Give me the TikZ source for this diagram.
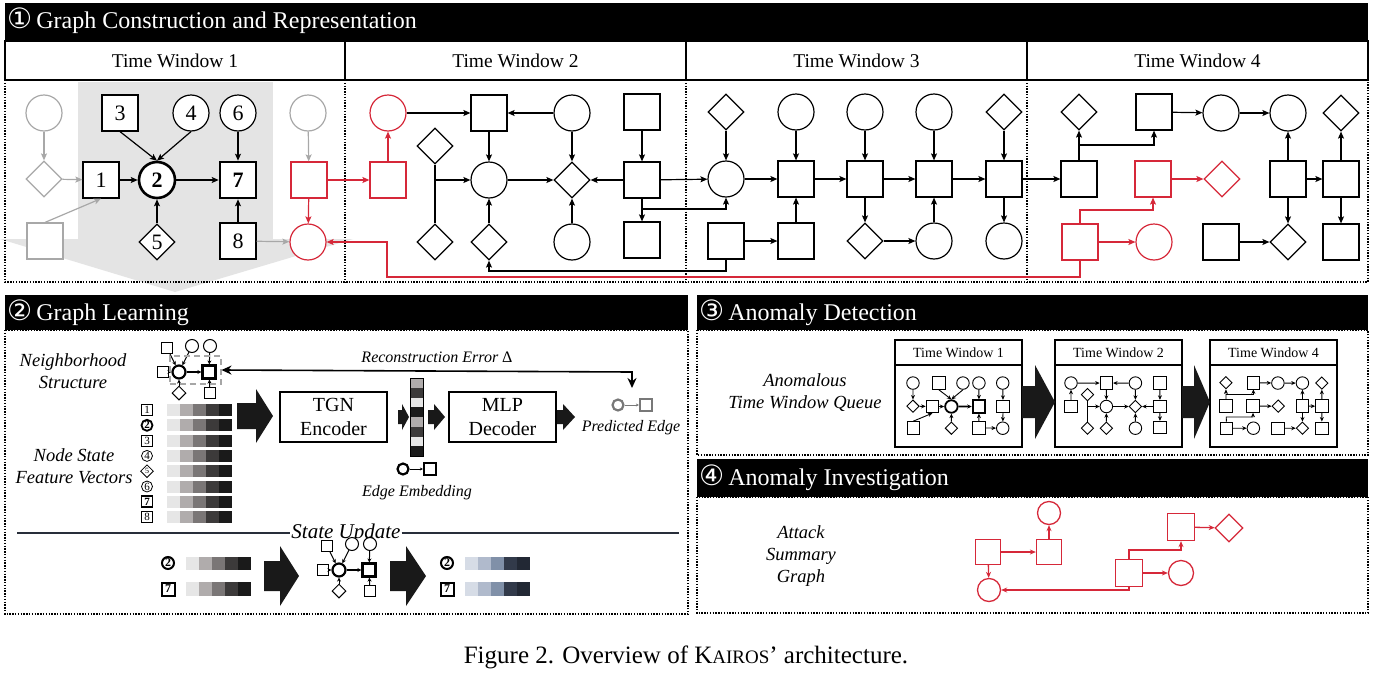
\documentclass[tikz,border=0pt]{standalone}
\usepackage{fontspec}
\setmainfont{Liberation Serif}
\newfontfamily\symf{DejaVu Sans}
\usetikzlibrary{shapes.geometric,arrows.meta}
\definecolor{gcol}{RGB}{168,168,168}
\definecolor{rcol}{RGB}{214,40,57}
\definecolor{lgray}{RGB}{228,228,228}
\definecolor{pgray}{RGB}{120,120,120}
\definecolor{c1}{RGB}{230,230,230}
\definecolor{c2}{RGB}{176,172,172}
\definecolor{c3}{RGB}{122,118,118}
\definecolor{c4}{RGB}{60,58,58}
\definecolor{c5}{RGB}{26,26,26}
\definecolor{b1}{RGB}{214,220,230}
\definecolor{b2}{RGB}{176,186,204}
\definecolor{b3}{RGB}{128,144,168}
\definecolor{b4}{RGB}{50,58,74}
\definecolor{b5}{RGB}{34,40,52}
\definecolor{navy}{RGB}{40,46,58}

\newcommand\nsz{36pt}
\newcommand\lw{1.2pt}
\newcommand\tlw{2.6pt}
\newcommand\alen{7pt}
\newcommand\awid{6pt}
\newcommand\LB[1]{#1}
\newcommand\cnum[1]{{\symf\fontsize{28}{24}\selectfont #1}}

\tikzset{
  nd/.style={draw, line width=\lw, fill=white, inner sep=0pt, font=\fontsize{22}{22}\selectfont},
  sq/.style={nd, rectangle, minimum size=\nsz},
  ci/.style={nd, circle, minimum size=\nsz},
  di/.style={nd, diamond, minimum size=\nsz},
  tk/.style={line width=\tlw},
  ed/.style={line width=\lw, -{Stealth[length=\alen,width=\awid,inset=1.5pt]}},
  gn/.style={draw=gcol},
  rn/.style={draw=rcol},
  ge/.style={draw=gcol},
  re/.style={draw=rcol},
  dotbox/.style={line width=2pt, dash pattern=on 1.4pt off 1.4pt},
  sn/.style={draw, fill=white, inner sep=0pt, line width=1pt, rectangle},
  se/.style={line width=1pt, -{Stealth[length=4pt,width=4pt]}},
  ico/.style={draw, fill=white, inner sep=0pt, line width=0.8pt, minimum size=11pt, font=\fontsize{11}{11}\selectfont},
  blk/.style={fill=black!90},
  itx/.style={font=\fontsize{18.5}{22}\selectfont\itshape, align=center},
  ttl/.style={font=\fontsize{24}{24}\selectfont, text=white, anchor=west, inner sep=0pt},
  hdr/.style={font=\fontsize{19.5}{19.5}\selectfont},
  phdr/.style={font=\fontsize{14}{14}\selectfont},
  rsq/.style={draw=rcol, fill=white, line width=1.3pt, rectangle, inner sep=0pt, minimum size=25pt},
  rci/.style={draw=rcol, fill=white, line width=1.3pt, circle, inner sep=0pt, minimum size=23pt},
  rdi/.style={draw=rcol, fill=white, line width=1.3pt, diamond, inner sep=0pt, minimum size=28pt},
  rar/.style={draw=rcol, line width=1.3pt, -{Stealth[length=6pt,width=5pt]}},
  boxn/.style={draw, line width=2pt, minimum width=107pt, minimum height=50pt, align=center, font=\fontsize{20}{24}\selectfont},
}

\newcommand\barrow[6]{\fill[blk] (#1,#4-#5) -- (#2,#4-#5) -- (#2,#4-#6) -- (#3,#4) -- (#2,#4+#6) -- (#2,#4+#5) -- (#1,#4+#5) -- cycle;}

\newcommand\GOne{%
 \node[ci,gn] (g1) at (44,113) {};
 \node[di,gn] (g2) at (44,179) {};
 \node[sq,gn] (g3) at (45,241) {};
 \node[sq] (n1) at (101,180) {\LB{1}};
 \node[ci,tk] (n2) at (157,180) {\LB{\textbf{2}}};
 \node[sq] (n3) at (120,113) {\LB{3}};
 \node[ci] (n4) at (191,113) {\LB{4}};
 \node[di] (n5) at (157,242) {\LB{5}};
 \node[ci] (n6) at (238,113) {\LB{6}};
 \node[sq,tk] (n7) at (238,180) {\LB{\textbf{7}}};
 \node[sq] (n8) at (238,241) {\LB{8}};
 \node[ci,gn] (g4) at (308,113) {};
 \node[sq,rn] (r1) at (309,180) {};
 \node[ci,rn] (r2) at (308,242) {};
 \draw[ed,ge] (g1) -- (g2);
 \draw[ed,ge] (g2) -- (n1);
 \draw[ed,ge] (g3.north) -- (n1.south);
 \draw[ed] (n3.south) -- (n2.north);
 \draw[ed] (n4.south) -- (n2.north);
 \draw[ed] (n1) -- (n2);
 \draw[ed] (n5) -- (n2);
 \draw[ed,tk] (n2) -- (n7);
 \draw[ed] (n6) -- (n7);
 \draw[ed] (n8) -- (n7);
 \draw[ed,ge] (n8) -- (r2);
 \draw[ed,ge] (g4) -- (r1);
 \draw[ed,re] (r1) -- (r2);
}

\newcommand\GTwo{%
 \node[ci,rn] (r3) at (388,113) {};
 \node[sq,rn] (r4) at (388,180) {};
 \node[sq] (A) at (489,113) {};
 \node[ci] (B) at (572,113) {};
 \node[sq] (C) at (642,112) {};
 \node[di] (D1) at (435,146) {};
 \node[ci] (E) at (489,180) {};
 \node[di] (F) at (572,180) {};
 \node[sq] (G) at (642,180) {};
 \node[di] (D2) at (435,242) {};
 \node[di] (D3) at (489,242) {};
 \node[ci] (H) at (572,242) {};
 \node[sq] (I) at (642,240) {};
 \draw[ed,re] (r4) -- (r3);
 \draw[ed] (r3) -- (A);
 \draw[ed] (B) -- (A);
 \draw[ed] (A) -- (E);
 \draw[ed] (B) -- (F);
 \draw[ed] (C) -- (G);
 \draw[line width=\lw] (D1.south) -- (D2.north);
 \draw[ed] (435,180) -- (E);
 \draw[ed] (D3) -- (E);
 \draw[ed] (E) -- (F);
 \draw[ed] (G) -- (F);
 \draw[ed] (H) -- (F);
 \draw[ed] (G) -- (I);
}

\newcommand\GThree{%
 \node[di] (x1) at (726,112) {};
 \node[ci] (x2) at (796,112) {};
 \node[ci] (x3) at (865,112) {};
 \node[ci] (x4) at (934,112) {};
 \node[di] (x5) at (1004,112) {};
 \node[ci] (y1) at (726,179) {};
 \node[sq] (y2) at (796,179) {};
 \node[sq] (y3) at (865,179) {};
 \node[sq] (y4) at (934,179) {};
 \node[sq] (y5) at (1004,179) {};
 \node[sq] (z1) at (726,241) {};
 \node[sq] (z2) at (796,241) {};
 \node[di] (z3) at (865,241) {};
 \node[ci] (z4) at (934,241) {};
 \node[ci] (z5) at (1004,241) {};
 \foreach \i in {1,...,5} {\draw[ed] (x\i) -- (y\i);}
 \draw[ed] (y1) -- (y2);
 \draw[ed] (y2) -- (y3);
 \draw[ed] (y3) -- (y4);
 \draw[ed] (y4) -- (y5);
 \draw[ed] (z1) -- (z2);
 \draw[ed] (z2) -- (y2);
 \draw[ed] (y3) -- (z3);
 \draw[ed] (z3) -- (z4);
 \draw[ed] (z4) -- (y4);
 \draw[ed] (y5) -- (z5);
}

\newcommand\GFour{%
 \node[di] (X1) at (1079,112) {};
 \node[sq] (X2) at (1154,112) {};
 \node[ci] (X3) at (1221,113) {};
 \node[ci] (X4) at (1288,113) {};
 \node[di] (X5) at (1341,113) {};
 \node[sq] (Y1) at (1079,179) {};
 \node[sq,rn] (Y2) at (1153,179) {};
 \node[di,rn] (Y3) at (1222,179) {};
 \node[sq] (Y4) at (1288,179) {};
 \node[sq] (Y5) at (1341,179) {};
 \node[sq,rn] (Z1) at (1080,242) {};
 \node[ci,rn] (Z2) at (1154,242) {};
 \node[sq] (Z3) at (1221,242) {};
 \node[di] (Z4) at (1288,242) {};
 \node[sq] (Z5) at (1341,242) {};
 \draw[ed] (Y1) -- (X1);
 \draw[ed] (1079,145) -| (X2.south);
 \draw[ed] (X2) -- (X3);
 \draw[ed] (X3) -- (X4);
 \draw[ed] (Y4) -- (X4);
 \draw[ed] (Y5) -- (X5);
 \draw[ed] (Y4) -- (Y5);
 \draw[ed] (Y4) -- (Z4);
 \draw[ed] (Y5) -- (Z5);
 \draw[ed] (Z3) -- (Z4);
 \draw[ed,re] (Y2) -- (Y3);
 \draw[ed,re] (Z1) -- (Z2);
 \draw[ed,re] (Z1.north) -- (1080,210) -| (Y2.south);
}

\newcommand\NB{%
 \node[sn,circle,minimum size=13pt,line width=2.2pt] (nC) at (179,372) {};
 \node[sn,minimum size=13pt,line width=2.2pt] (nS) at (209,372) {};
 \node[sn,minimum size=11pt] (nL) at (163,372) {};
 \node[sn,minimum size=11pt] (nTL) at (167,348) {};
 \node[sn,circle,minimum size=13pt] (nTC) at (192,346) {};
 \node[sn,circle,minimum size=13pt] (nTS) at (210,346) {};
 \node[sn,diamond,minimum size=14pt] (nD) at (179,393) {};
 \node[sn,minimum size=11pt] (nB) at (210,393) {};
 \draw[se] (nL) -- (nC);
 \draw[se] (nTL) -- (nC);
 \draw[se] (nTC) -- (nC);
 \draw[se] (nTS) -- (nS);
 \draw[se] (nD) -- (nC);
 \draw[se] (nB) -- (nS);
 \draw[se,line width=2pt] (nC) -- (nS);
}

\newcommand\MiniSet{\renewcommand\nsz{12.5pt}\renewcommand\lw{0.9pt}\renewcommand\tlw{1.8pt}\renewcommand\alen{4.5pt}\renewcommand\awid{4pt}\renewcommand\LB[1]{}}

\begin{document}
\begin{tikzpicture}[x=1pt,y=-1pt]
\useasboundingbox (0,0) rectangle (1373,672);
\fill[white] (0,0) rectangle (1373,672);

% ---------- Section 1 ----------
\fill[lgray] (78,82) rectangle (273,239);
\fill[lgray] (0,239) -- (353,239) -- (175,292) -- cycle;
\fill[black] (5,3) rectangle (1368,41);
\node[ttl] (s1t) at (7,21) {\cnum{①}\,Graph Construction and Representation};
\foreach \i/\xa/\xb in {1/5/345,2/345/686,3/686/1027,4/1027/1368} {
  \draw[line width=2pt] (\xa,41) rectangle (\xb,80);
  \node[hdr] (hw\i) at ({(\xa+\xb)/2},61) {Time Window \i};
}
\draw[dotbox] (5,80) rectangle (1368,282);
\foreach \xx in {345,686,1027} {\draw[dotbox] (\xx,80) -- (\xx,282);}

\GOne
\GTwo
\GThree
\GFour
\draw[ed,re] (r1) -- (r4);
\draw[ed] (G) -- (y1);
\draw[ed] (642,209) -| (y1.south);
\draw[ed] (z1.south) -- (726,271) -| (D3.south);
\draw[ed] (y5) -- (Y1);
\draw[ed,re] (Z1.south) |- (387,277) -- (387,242) -- (r2.east);

% ---------- Section 2 ----------
\fill[black] (5,295) rectangle (688,330);
\node[ttl] (s2t) at (7,313) {\cnum{②}\,Graph Learning};
\draw[dotbox] (5,330) rectangle (688,614);

\node[itx] (nbt) at (73,371) {Neighborhood\\Structure};
\NB
\node[draw=gray!70, dashed, line width=2pt, dash pattern=on 6pt off 4pt, minimum width=51pt, minimum height=28pt, inner sep=0pt] (dbox) at (195,370) {};
\coordinate (rcA) at (632,372);
\coordinate (rcB) at (632,388);
\draw[line width=1.6pt, {Stealth[length=10pt,width=9pt]}-{Stealth[length=10pt,width=9pt]}] (dbox.east) -- (rcA) -- (rcB);
\node[font=\fontsize{16}{16}\selectfont\itshape] (rct) at (437,357) {Reconstruction Error {\upshape Δ}};

\node[itx] (nst) at (74,466) {Node State\\Feature Vectors};
\foreach \i/\yy in {1/410,2/425.3,3/440.6,4/455.9,5/471.2,6/486.5,7/501.8,8/517.1} {
  \foreach \c [count=\k from 0] in {c1,c2,c3,c4,c5} {\fill[\c] ({167+13*\k},\yy-6) rectangle ++(13,12);}
}
\node[ico] (f1) at (147,410) {1};
\node[ico,circle,line width=1.8pt,minimum size=11pt] (f2) at (147,425.3) {\textbf{2}};
\node[ico] (f3) at (147,440.6) {3};
\node[ico,circle] (f4) at (147,455.9) {4};
\node[ico,diamond,minimum size=13pt,font=\fontsize{8}{8}\selectfont] (f5) at (147,471.2) {5};
\node[ico,circle] (f6) at (147,486.5) {6};
\node[ico,line width=1.8pt] (f7) at (147,501.8) {\textbf{7}};
\node[ico] (f8) at (147,517.1) {8};

\barrow{237}{256}{273}{416}{13}{27}
\node[boxn] (tgn) at (333.5,417) {TGN\\Encoder};
\barrow{398}{402}{409}{417}{7}{13}
\foreach \c [count=\k from 0] in {c2,c4,c1,c5,c2,c4,c1,c5} {\fill[\c] (410,{378+9.75*\k}) rectangle ++(13,9.75);}
\draw[line width=0.8pt] (410,378) rectangle (423,456);
\barrow{428}{434}{445}{417}{7}{13}
\node[boxn] (mlp) at (502.5,417) {MLP\\Decoder};
\barrow{557}{563}{575}{417}{7}{13}

\node[draw=pgray,circle,line width=2.2pt,minimum size=11pt,inner sep=0pt] (pc) at (618,405) {};
\node[draw=pgray,line width=2.2pt,minimum size=12pt,inner sep=0pt] (ps) at (646,405) {};
\draw[pgray,line width=1pt,-{Stealth[length=3pt,width=3pt]}] (pc) -- (ps);
\node[font=\fontsize{16}{16}\selectfont\itshape] (pet) at (631,428) {Predicted Edge};

\node[draw,circle,line width=2.2pt,minimum size=11pt,inner sep=0pt] (ec) at (403,469) {};
\node[draw,line width=2.2pt,minimum size=12pt,inner sep=0pt] (es) at (430,469) {};
\draw[line width=1pt,-{Stealth[length=3pt,width=3pt]}] (ec) -- (es);
\node[font=\fontsize{16}{16}\selectfont\itshape] (eet) at (417,493) {Edge Embedding};

% state update
\node[font=\fontsize{21}{21}\selectfont\itshape,inner sep=1pt] (sut) at (346,533) {State Update};
\coordinate (suL) at (17,533);
\coordinate (suR) at (679,533);
\draw[navy,line width=2pt] (suL) -- (sut.west);
\draw[navy,line width=2pt] (sut.east) -- (suR);

\foreach \c [count=\k from 0] in {c1,c2,c3,c4,c5} {
  \fill[\c] ({186+13*\k},557) rectangle ++(13,13);
  \fill[\c] ({186+13*\k},582) rectangle ++(13,14);
}
\foreach \c [count=\k from 0] in {b1,b2,b3,b4,b5} {
  \fill[\c] ({465+13*\k},557) rectangle ++(13,13);
  \fill[\c] ({465+13*\k},582) rectangle ++(13,14);
}
\node[ico,circle,line width=2pt,minimum size=12pt,font=\fontsize{12}{12}\selectfont] (u2a) at (168,563) {\textbf{2}};
\node[ico,line width=2pt,minimum size=13pt,font=\fontsize{12}{12}\selectfont] (u7a) at (168,589) {\textbf{7}};
\node[ico,circle,line width=2pt,minimum size=12pt,font=\fontsize{12}{12}\selectfont] (u2b) at (447,563) {\textbf{2}};
\node[ico,line width=2pt,minimum size=13pt,font=\fontsize{12}{12}\selectfont] (u7b) at (447,589) {\textbf{7}};
\barrow{264}{280}{299}{576}{15}{30}
\begin{scope}[shift={(160,198)}, name prefix=su-]
\NB
\end{scope}
\barrow{390}{406}{426}{576}{15}{30}

% ---------- Section 3 ----------
\fill[black] (697,295) rectangle (1368,330);
\node[ttl] (s3t) at (699,313) {\cnum{③}\,Anomaly Detection};
\draw[dotbox] (697,330) rectangle (1368,455);
\node[itx] (aqt) at (805,393) {Anomalous\\Time Window Queue};

\foreach \i/\xa/\xb/\lab in {1/895/1022/1,2/1055/1182/2,3/1210/1337/4} {
  \draw[line width=2pt,fill=white] (\xa,340) rectangle (\xb,365);
  \draw[line width=2pt,fill=white] (\xa,365) rectangle (\xb,447);
  \node[phdr] (pw\i) at ({(\xa+\xb)/2},353) {Time Window \lab};
}
\barrow{1022}{1035}{1055}{402}{16}{37}
\barrow{1182}{1194}{1210}{402}{16}{37}

\begin{scope}[shift={(898,343.5)}, xscale=0.34, yscale=0.35, name prefix=qa-, gn/.style={}, rn/.style={}, ge/.style={}, re/.style={}]
\MiniSet
\GOne
\end{scope}
\begin{scope}[shift={(935.2,343.5)}, xscale=0.35, yscale=0.35, name prefix=qb-, gn/.style={}, rn/.style={}, ge/.style={}, re/.style={}]
\MiniSet
\GTwo
\end{scope}
\begin{scope}[shift={(831,343.5)}, xscale=0.366, yscale=0.35, name prefix=qc-, gn/.style={}, rn/.style={}, ge/.style={}, re/.style={}]
\MiniSet
\GFour
\end{scope}

% ---------- Section 4 ----------
\fill[black] (697,459) rectangle (1368,497);
\node[ttl] (s4t) at (699,478) {\cnum{④}\,Anomaly Investigation};
\draw[dotbox] (697,497) rectangle (1368,613);
\node[itx] (ast) at (801,556) {Attack\\Summary\\Graph};

\node[rsq] (sa) at (988,552) {};
\node[rsq] (sb) at (1049,552) {};
\node[rci] (ca) at (1049,513) {};
\node[rci] (cb) at (989,590) {};
\node[rsq,minimum size=27pt] (sc) at (1129,573) {};
\node[rci,minimum size=25pt] (cc) at (1181,573) {};
\node[rsq,minimum size=27pt] (sd) at (1181,527) {};
\node[rdi] (dd) at (1229,528) {};
\draw[rar] (sa) -- (sb);
\draw[rar] (sb) -- (ca);
\draw[rar] (sa) -- (cb);
\draw[rar] (sc) -- (cc);
\draw[rar] (sc.north) -- (1129,550) -| (sd.south);
\draw[rar] (sd) -- (dd);
\draw[rar] (sc.south) |- (cb.east);

% caption
\node[font=\fontsize{25}{25}\selectfont] (cap) at (686,657) {Figure 2. Overview of K{\fontsize{19}{19}\selectfont AIROS}' architecture.};
\end{tikzpicture}
\end{document}
